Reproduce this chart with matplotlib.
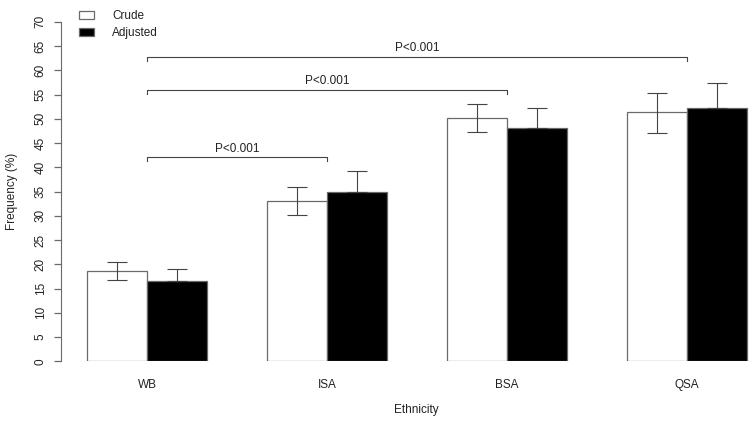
import matplotlib
matplotlib.use("Agg")
import matplotlib.pyplot as plt
import numpy as np

plt.rcParams["font.family"] = ["Liberation Sans", "DejaVu Sans"]

# data
groups = ["WB", "ISA", "BSA", "QSA"]
crude = [18.6, 33.0, 50.2, 51.3]
crude_lo = [16.8, 30.2, 47.3, 47.0]
crude_hi = [20.5, 35.9, 53.1, 55.4]
adjusted = [16.5, 35.0, 48.2, 52.2]
adjusted_hi = [19.0, 39.2, 52.3, 57.4]
# comparisons: (from group, to group, bracket height, label)
comparisons = [(0, 1, 42.1, "P<0.001"), (0, 2, 56.0, "P<0.001"), (0, 3, 62.8, "P<0.001")]

TXT = "#222222"
EDGE = "#6a6a6a"
ERR = "#444444"

fig = plt.figure(figsize=(7.52, 4.23), dpi=100)
ax = fig.add_axes([60.7 / 752, 61.7 / 423, 1 - 60.7 / 752, 339.5 / 423])

# R barplot layout: width 1, one unit gap between groups
centers = np.arange(len(groups)) * 3 + 2.0
x_crude = centers - 0.5
x_adj = centers + 0.5

b1 = ax.bar(x_crude, crude, width=1.0, color="white", edgecolor=EDGE, linewidth=0.9, label="Crude")
b2 = ax.bar(x_adj, adjusted, width=1.0, color="black", edgecolor=EDGE, linewidth=0.9, label="Adjusted")

crude_err = [np.array(crude) - np.array(crude_lo), np.array(crude_hi) - np.array(crude)]
ax.errorbar(x_crude, crude, yerr=crude_err, fmt="none", ecolor=ERR, elinewidth=0.8, capsize=7, capthick=0.8)
adj_err = [np.zeros(len(adjusted)), np.array(adjusted_hi) - np.array(adjusted)]
ax.errorbar(x_adj, adjusted, yerr=adj_err, fmt="none", ecolor=ERR, elinewidth=0.8, capsize=7, capthick=0.8)

for i, j, h, lab in comparisons:
    xa, xb = centers[i], centers[j]
    ax.plot([xa, xa, xb, xb], [h - 0.9, h, h, h - 0.9], color=ERR, lw=0.8, clip_on=False)
    ax.text((xa + xb) / 2, h + 0.5, lab, ha="center", va="bottom", fontsize=8.5, color=TXT)

ax.set_xlim(0.56, 12.08)
ax.set_ylim(0, 70)
ax.set_yticks(np.arange(0, 71, 5))
ax.set_xticks(centers)
ax.set_xticklabels(groups)

for s in ["top", "right", "bottom"]:
    ax.spines[s].set_visible(False)
ax.spines["left"].set_color(EDGE)
ax.spines["left"].set_bounds(0, 70)
ax.tick_params(axis="y", direction="out", length=5, width=0.9, color=EDGE, pad=5,
               labelsize=8.5, labelcolor=TXT, labelrotation=90)
for t in ax.get_yticklabels():
    t.set_verticalalignment("center")
ax.tick_params(axis="x", length=0, pad=13, labelsize=8.5, labelcolor=TXT)

fig.text(416 / 752, 1 - 410 / 423, "Ethnicity", ha="center", va="center", fontsize=8.5, color=TXT)
fig.text(12 / 752, 1 - 191 / 423, "Frequency (%)", ha="center", va="center", rotation=90,
         fontsize=8.5, color=TXT)

ax.legend(handles=[b1, b2], loc="upper left", bbox_to_anchor=(79 / 752, 1 - 10 / 423),
          bbox_transform=fig.transFigure, frameon=False, fontsize=8.5, labelcolor=TXT,
          handlelength=1.3, handleheight=0.7, handletextpad=1.5, labelspacing=0.45,
          borderpad=0, borderaxespad=0)

fig.savefig("out.png", dpi=100)
